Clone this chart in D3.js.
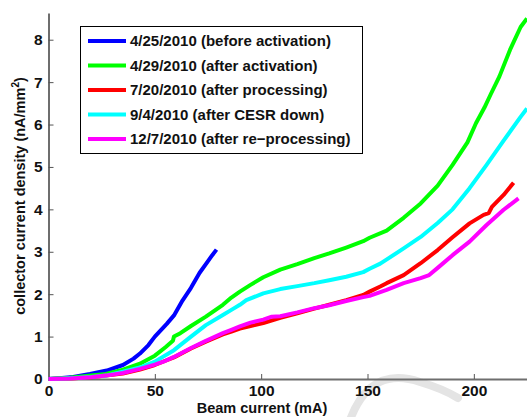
<!DOCTYPE html>
<html>
<head>
<meta charset="utf-8">
<script src="https://cdn.jsdelivr.net/npm/d3@7"></script>
<style>
  body { margin: 0; background: #fff; }
  text { font-family: "Liberation Sans", Arial, sans-serif; font-weight: bold; }
</style>
</head>
<body>
<script>
var width = 527;
var height = 417;
var marginLeft = 48.5;
var marginBottom = 38;
var marginTop = 13;

// series, [beam current mA, density nA/mm2]
var blueData = [[0,0],[5,0.02],[11.6,0.05],[19.5,0.12],[27.4,0.2],[35,0.33],[40,0.48],[43,0.6],[47,0.8],[50,1.0],[55.6,1.3],[59,1.5],[63,1.85],[67,2.15],[71,2.5],[75,2.78],[77,2.92],[79,3.05]];
var greenData = [[0,0],[10,0.03],[20,0.08],[27,0.12],[35,0.22],[43,0.36],[50,0.55],[55,0.75],[58.5,0.9],[59,1.0],[62,1.08],[67,1.25],[74,1.47],[82,1.75],[86,1.92],[90,2.06],[95,2.22],[101,2.4],[109,2.58],[117,2.71],[125,2.85],[132,2.96],[140,3.1],[148,3.25],[151,3.33],[159,3.5],[167,3.8],[175,4.14],[183,4.56],[190,5.05],[197,5.58],[201,6.03],[205,6.4],[208,6.72],[212,7.13],[217,7.76],[222,8.3],[225,8.5]];
var redData = [[0,0],[10,0.01],[20,0.04],[27,0.08],[35,0.13],[43,0.22],[50,0.33],[55,0.43],[59,0.51],[67,0.72],[74,0.88],[82,1.05],[86,1.12],[90,1.19],[95,1.25],[101,1.32],[109,1.44],[117,1.55],[125,1.66],[132,1.75],[140,1.86],[148,1.98],[151,2.06],[156,2.18],[159,2.26],[167,2.45],[175,2.73],[183,3.04],[190,3.34],[198,3.67],[204.6,3.87],[207,3.91],[208.5,4.06],[214,4.34],[218.7,4.63]];
var cyanData = [[0,0],[10,0.02],[20,0.05],[27,0.08],[35,0.17],[43,0.27],[50,0.41],[59,0.68],[67,1.0],[74,1.27],[82,1.51],[86,1.63],[90,1.75],[93,1.86],[101,2.02],[109,2.12],[117,2.19],[125,2.26],[132,2.33],[140,2.41],[148,2.52],[151,2.6],[156,2.72],[160,2.85],[167,3.08],[175,3.35],[183,3.68],[190,4.0],[198,4.5],[206,5.05],[214,5.62],[222,6.18],[225,6.38]];
var magentaData = [[0,0],[10,0.01],[20,0.04],[27,0.08],[35,0.14],[43,0.24],[50,0.34],[55,0.43],[59,0.52],[67,0.73],[74,0.9],[82,1.08],[86,1.16],[90,1.24],[95,1.33],[101,1.4],[105,1.47],[109,1.48],[117,1.57],[125,1.67],[132,1.74],[140,1.84],[148,1.93],[151,1.96],[159,2.1],[167,2.26],[175,2.38],[179,2.45],[183,2.62],[190,2.92],[198,3.24],[206,3.63],[214,3.99],[221,4.26]];

var seriesNames = ["4/25/2010 (before activation)", "4/29/2010 (after activation)", "7/20/2010 (after processing)", "9/4/2010 (after CESR down)", "12/7/2010 (after re\u2212processing)"];
var seriesColors = ["#0000ff", "#00ff00", "#ff0000", "#00ffff", "#ff00ff"];
var seriesData = [blueData, greenData, redData, cyanData, magentaData];

var xTicks = [0, 50, 100, 150, 200];
var yTicks = [0, 1, 2, 3, 4, 5, 6, 7, 8];

let svg = d3.select("body")
            .append("svg")
            .attr("width", width)
            .attr("height", height);

// faint watermark swoosh from the scanned page
var wm = d3.path();
wm.moveTo(350, 420);
wm.bezierCurveTo(365, 380, 390, 372, 420, 382);
wm.bezierCurveTo(440, 388, 450, 393, 458, 398);
svg.append("path")
   .attr("d", wm.toString())
   .attr("fill", "none")
   .attr("stroke", "#e4e4e4")
   .attr("stroke-width", 8)
   .attr("stroke-linecap", "round");

var xScale = d3.scaleLinear()
      .domain([0, 225])
      .range([marginLeft, width]);

var yScale = d3.scaleLinear()
      .domain([0, 8.63])
      .range([height - marginBottom, marginTop]);

var xAxis = d3.axisBottom(xScale)
          .tickValues(xTicks)
          .tickSizeInner(-5)
          .tickSizeOuter(0)
          .tickPadding(6);

var yAxis = d3.axisLeft(yScale)
          .tickValues(yTicks)
          .tickSizeInner(-5)
          .tickSizeOuter(0)
          .tickPadding(6);

var gx = svg.append("g")
    .attr("transform", `translate(0,${height - marginBottom})`)
    .call(xAxis);

var gy = svg.append("g")
    .attr("transform", `translate(${marginLeft},0)`)
    .call(yAxis);

[gx, gy].forEach(function(g){
  g.select(".domain").attr("stroke", "#6e6e6e").attr("stroke-width", 2);
  g.selectAll(".tick line").attr("stroke", "#555").attr("stroke-width", 1);
  g.selectAll(".tick text")
    .attr("fill", "#111")
    .style("font-size", "15.5px")
    .style("font-family", "Liberation Sans, Arial, sans-serif")
    .style("font-weight", "bold");
});

var line = d3.line()
      .x(function(d) { return xScale(d[0]); })
      .y(function(d) { return yScale(d[1]); });

svg.selectAll(".series")
   .data(d3.range(seriesData.length))
   .join("path")
     .attr("class", "series")
     .attr("fill", "none")
     .attr("stroke", function(i){ return seriesColors[i]; })
     .attr("stroke-width", 4)
     .attr("stroke-linejoin", "round")
     .attr("d", function(i){ return line(seriesData[i]); });

// axis labels
svg.append("text")
   .attr("x", 262)
   .attr("y", 413)
   .attr("text-anchor", "middle")
   .style("font-size", "14.5px")
   .attr("fill", "#111")
   .text("Beam current (mA)");

var yl = svg.append("text")
   .attr("transform", "translate(25,196) rotate(-90)")
   .attr("text-anchor", "middle")
   .style("font-size", "14.5px")
   .attr("fill", "#111");
yl.append("tspan").text("collector current density (nA/mm");
yl.append("tspan").attr("dy", -6).style("font-size", "10px").text("2");
yl.append("tspan").attr("dy", 6).text(")");

// legend
var legend = svg.append("g");
legend.append("rect")
   .attr("x", 80.5)
   .attr("y", 26.5)
   .attr("width", 282)
   .attr("height", 127)
   .attr("fill", "#fff")
   .attr("stroke", "#000")
   .attr("stroke-width", 1);

var rowY = d3.scalePoint()
   .domain(d3.range(seriesNames.length))
   .range([41, 139]);

var rows = legend.selectAll(".row")
   .data(d3.range(seriesNames.length))
   .join("g")
     .attr("transform", function(i){ return `translate(0,${rowY(i)})`; });

rows.append("line")
   .attr("x1", 88).attr("x2", 126)
   .attr("stroke", function(i){ return seriesColors[i]; })
   .attr("stroke-width", 4);

rows.append("text")
   .attr("x", 130)
   .attr("dy", "0.36em")
   .style("font-size", "15px")
   .attr("fill", "#111")
   .text(function(i){ return seriesNames[i]; });
</script>
</body>
</html>
